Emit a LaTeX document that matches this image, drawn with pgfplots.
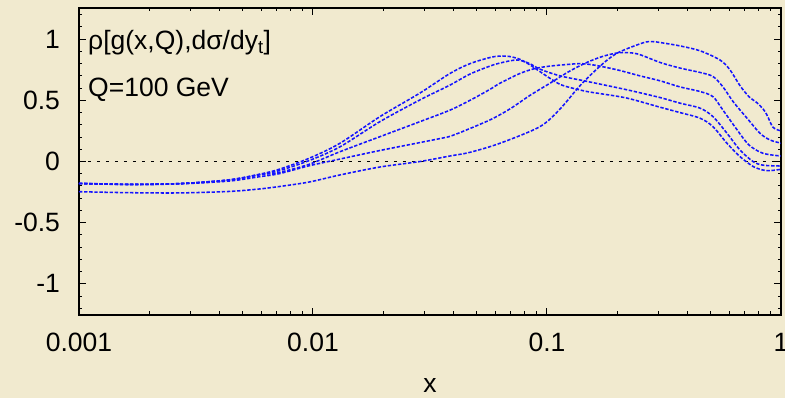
\documentclass[border=0pt]{standalone}
\usepackage{fontspec}
\setmainfont{Liberation Sans}
\usepackage{pgfplots}
\pgfplotsset{compat=1.18}
\definecolor{bg}{RGB}{241,234,207}
\definecolor{cblue}{RGB}{20,20,255}
\newcommand{\bigfont}{\fontsize{26.5}{31}\selectfont}
\begin{document}
\bigfont
\begin{tikzpicture}
\path[use as bounding box, fill=bg] (-79pt,-83pt) rectangle (706pt,315pt);
\begin{axis}[
  at={(0,0)}, anchor=south west, scale only axis,
  width=702pt, height=307pt,
  xmode=log, xmin=0.001, xmax=1, ymin=-1.255, ymax=1.255,
  xtick={0.001,0.01,0.1,1}, xticklabels={0.001,0.01,0.1,1},
  minor xtick={0.002,0.003,0.004,0.005,0.006,0.007,0.008,0.009,0.02,0.03,0.04,0.05,0.06,0.07,0.08,0.09,0.2,0.3,0.4,0.5,0.6,0.7,0.8,0.9},
  ytick={-1,-0.5,0,0.5,1}, yticklabels={-1,-0.5,0,0.5,1},
  minor ytick={-1.2,-1.1,-0.9,-0.8,-0.7,-0.6,-0.4,-0.3,-0.2,-0.1,0.1,0.2,0.3,0.4,0.6,0.7,0.8,0.9,1.1,1.2},
  tick align=inside,
  major tick length=7pt, minor tick length=3.5pt,
  tick style={black, line width=1pt},
  axis line style={black, line width=1.4pt},
  tick label style={font=\bigfont},
  xticklabel style={yshift=-9pt},
  yticklabel style={xshift=-10pt},
  xlabel={x},
  xlabel style={at={(axis description cs:0.5,0)}, anchor=base, yshift=-78pt, font=\bigfont},
  curve/.style={cblue, no markers, line width=1.55pt, dash pattern=on 3.4pt off 1.7pt, smooth},
]
\addplot[black, no markers, line width=0.9pt, dash pattern=on 3.5pt off 5.5pt, sharp plot] coordinates {(0.001,0) (1,0)};
% A
\addplot[curve] coordinates {(0.001,-0.178) (0.001637,-0.187) (0.002673,-0.181) (0.004375,-0.150) (0.005878,-0.105) (0.00716,-0.064) (0.00962,0.026) (0.01304,0.149) (0.01933,0.367) (0.02867,0.56) (0.03851,0.72) (0.04688,0.80) (0.05706,0.85) (0.06297,0.862) (0.06948,0.858) (0.0767,0.835) (0.0845,0.79) (0.0933,0.735) (0.103,0.68) (0.1138,0.63) (0.1253,0.605) (0.1482,0.572) (0.1687,0.555) (0.220,0.518) (0.304,0.444) (0.370,0.40) (0.451,0.354) (0.512,0.285) (0.5876,0.149) (0.668,0.04) (0.759,-0.04) (0.838,-0.07) (0.897,-0.075) (1,-0.064)};
% B
\addplot[curve] coordinates {(0.001,-0.179) (0.001637,-0.187) (0.002673,-0.181) (0.004375,-0.151) (0.005878,-0.107) (0.00716,-0.075) (0.00962,0.007) (0.01304,0.12) (0.01933,0.326) (0.02867,0.504) (0.03851,0.625) (0.04688,0.715) (0.05706,0.78) (0.06297,0.805) (0.07441,0.83) (0.0845,0.80) (0.0933,0.755) (0.1138,0.70) (0.1482,0.655) (0.220,0.586) (0.304,0.523) (0.370,0.477) (0.451,0.436) (0.512,0.367) (0.5876,0.231) (0.668,0.094) (0.759,0.0) (0.838,-0.03) (1,-0.037)};
% C
\addplot[curve] coordinates {(0.001,-0.180) (0.001637,-0.187) (0.002673,-0.181) (0.004375,-0.153) (0.005878,-0.11) (0.00716,-0.089) (0.00962,-0.023) (0.01304,0.08) (0.01933,0.203) (0.02867,0.326) (0.03851,0.42) (0.04688,0.50) (0.05706,0.59) (0.06297,0.64) (0.0767,0.72) (0.0889,0.76) (0.103,0.78) (0.1253,0.795) (0.1384,0.80) (0.1572,0.79) (0.199,0.75) (0.2497,0.70) (0.304,0.66) (0.370,0.61) (0.451,0.572) (0.512,0.53) (0.565,0.42) (0.6486,0.26) (0.7298,0.135) (0.838,0.067) (1,0.045)};
% D
\addplot[curve] coordinates {(0.001,-0.181) (0.001637,-0.188) (0.002673,-0.183) (0.004375,-0.160) (0.005878,-0.125) (0.00716,-0.10) (0.00962,-0.035) (0.01304,0.02) (0.01933,0.09) (0.02867,0.155) (0.03851,0.205) (0.04247,0.236) (0.05706,0.34) (0.06948,0.43) (0.0845,0.54) (0.103,0.64) (0.1253,0.74) (0.1482,0.81) (0.1734,0.86) (0.205,0.89) (0.243,0.88) (0.304,0.81) (0.370,0.764) (0.451,0.728) (0.512,0.695) (0.565,0.61) (0.624,0.49) (0.716,0.354) (0.813,0.231) (0.897,0.176) (1,0.15)};
% E
\addplot[curve] coordinates {(0.001,-0.247) (0.001637,-0.255) (0.002673,-0.257) (0.004375,-0.245) (0.005878,-0.225) (0.00716,-0.205) (0.00962,-0.168) (0.01304,-0.11) (0.01933,-0.045) (0.02867,0.0) (0.03851,0.045) (0.04688,0.075) (0.06297,0.149) (0.0933,0.285) (0.1138,0.43) (0.1384,0.62) (0.1687,0.78) (0.199,0.885) (0.257,0.97) (0.281,0.98) (0.304,0.973) (0.370,0.945) (0.451,0.905) (0.5486,0.83) (0.605,0.75) (0.668,0.62) (0.7298,0.53) (0.7898,0.48) (0.838,0.43) (0.8714,0.38) (0.9243,0.28) (1,0.25)};
\node[anchor=base west, inner sep=0pt, font=\bigfont] at ([xshift=9pt,yshift=-42pt]rel axis cs:0,1) {ρ[g(x,Q),dσ/dy\textsubscript{t}]};
\node[anchor=base west, inner sep=0pt, font=\bigfont] at ([xshift=9pt,yshift=-89pt]rel axis cs:0,1) {Q=100 GeV};
\end{axis}
\end{tikzpicture}
\end{document}
